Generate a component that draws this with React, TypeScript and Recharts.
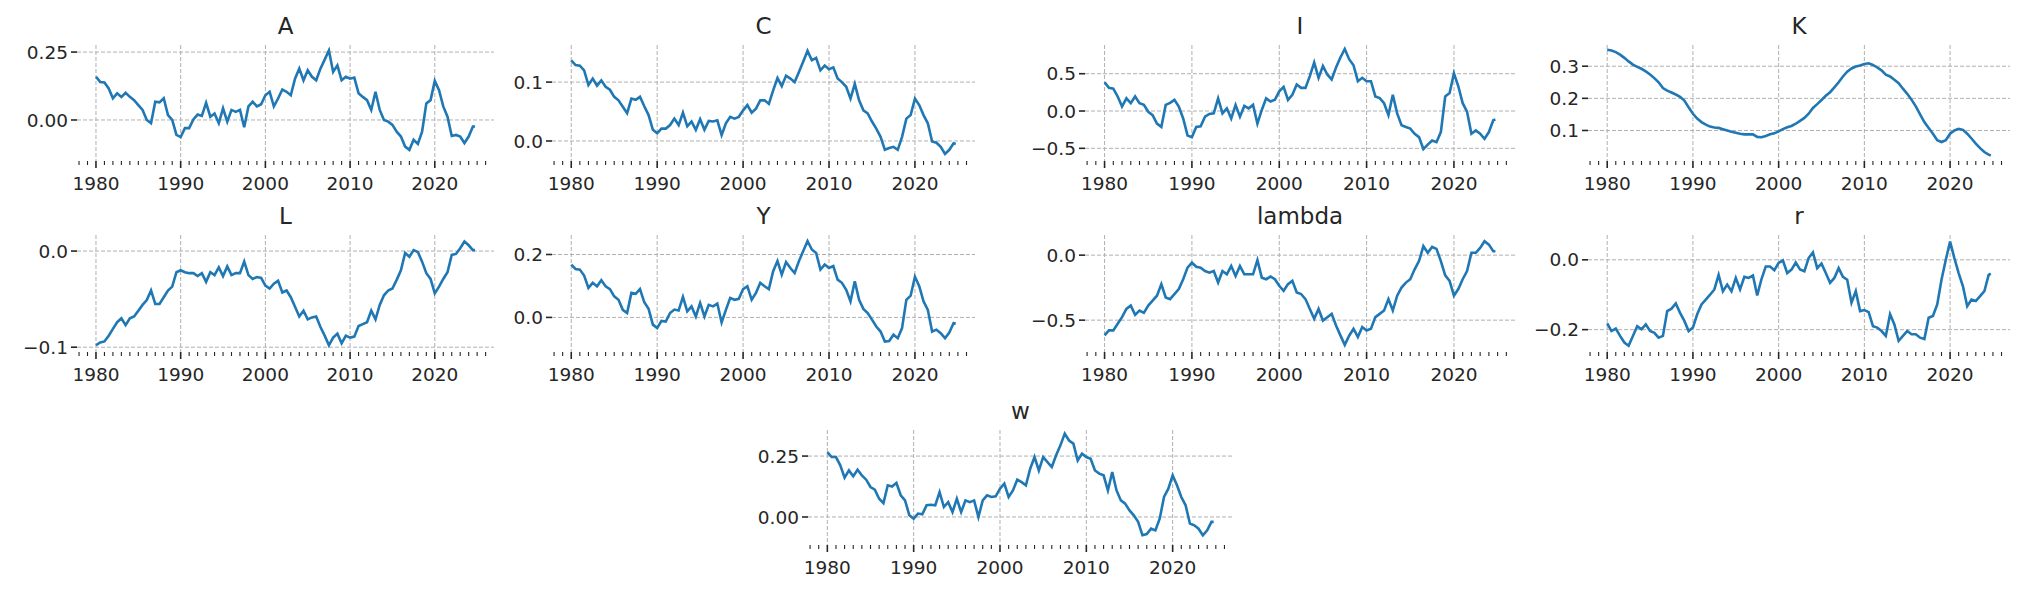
import React from "react";
import { CartesianGrid, Line, LineChart, XAxis, YAxis } from "recharts";

const FONT = '"DejaVu Sans", sans-serif';
const INK = "#262626";

// half-yearly observation dates
const years = [
  1980, 1980.5, 1981, 1981.5, 1982, 1982.5, 1983, 1983.5, 1984, 1984.5,
  1985, 1985.5, 1986, 1986.5, 1987, 1987.5, 1988, 1988.5, 1989, 1989.5,
  1990, 1990.5, 1991, 1991.5, 1992, 1992.5, 1993, 1993.5, 1994, 1994.5,
  1995, 1995.5, 1996, 1996.5, 1997, 1997.5, 1998, 1998.5, 1999, 1999.5,
  2000, 2000.5, 2001, 2001.5, 2002, 2002.5, 2003, 2003.5, 2004, 2004.5,
  2005, 2005.5, 2006, 2006.5, 2007, 2007.5, 2008, 2008.5, 2009, 2009.5,
  2010, 2010.5, 2011, 2011.5, 2012, 2012.5, 2013, 2013.5, 2014, 2014.5,
  2015, 2015.5, 2016, 2016.5, 2017, 2017.5, 2018, 2018.5, 2019, 2019.5,
  2020, 2020.5, 2021, 2021.5, 2022, 2022.5, 2023, 2023.5, 2024, 2024.5,
  2024.75,
];

const aValues = [
  0.159, 0.14, 0.138, 0.116, 0.08, 0.098, 0.085, 0.1, 0.085, 0.073,
  0.055, 0.037, 0.0, -0.012, 0.067, 0.065, 0.08, 0.018, 0.0, -0.055,
  -0.063, -0.03, -0.03, 0.002, 0.02, 0.015, 0.063, 0.012, 0.024, -0.012,
  0.043, -0.006, 0.037, 0.03, 0.037, -0.027, 0.05, 0.067, 0.05, 0.058,
  0.091, 0.104, 0.05, 0.079, 0.112, 0.104, 0.091, 0.152, 0.189, 0.146,
  0.183, 0.159, 0.146, 0.189, 0.222, 0.256, 0.177, 0.201, 0.146, 0.159,
  0.152, 0.156, 0.098, 0.085, 0.073, 0.037, 0.104, 0.037, 0.0, -0.006,
  -0.018, -0.043, -0.061, -0.098, -0.11, -0.073, -0.088, -0.043, 0.061, 0.073,
  0.144, 0.11, 0.05, 0.012, -0.059, -0.055, -0.061, -0.085, -0.061, -0.024,
  -0.024,
];

const cValues = [
  0.137, 0.129, 0.128, 0.12, 0.095, 0.106, 0.094, 0.103, 0.092, 0.087,
  0.075, 0.069, 0.058, 0.047, 0.072, 0.07, 0.075, 0.059, 0.044, 0.019,
  0.013, 0.021, 0.021, 0.027, 0.038, 0.027, 0.048, 0.025, 0.033, 0.019,
  0.037, 0.019, 0.034, 0.033, 0.035, 0.01, 0.03, 0.041, 0.038, 0.041,
  0.052, 0.061, 0.048, 0.055, 0.069, 0.069, 0.063, 0.086, 0.107, 0.093,
  0.111, 0.106, 0.1, 0.117, 0.135, 0.153, 0.137, 0.141, 0.12, 0.128,
  0.122, 0.125, 0.106, 0.1, 0.092, 0.072, 0.097, 0.069, 0.052, 0.047,
  0.033, 0.021, 0.007, -0.015, -0.012, -0.01, -0.015, 0.007, 0.038, 0.044,
  0.072, 0.061, 0.044, 0.03, -0.001, -0.003, -0.01, -0.022, -0.015, -0.004,
  -0.005,
];

const iValues = [
  0.386, 0.31, 0.3, 0.195, 0.06, 0.17, 0.105, 0.195, 0.105, 0.082,
  -0.01, -0.055, -0.168, -0.214, 0.082, 0.11, 0.15, 0.06, -0.1, -0.327,
  -0.35, -0.214, -0.205, -0.077, -0.04, -0.03, 0.17, -0.03, 0.036, -0.1,
  0.082, -0.077, 0.068, 0.036, 0.082, -0.168, 0.014, 0.17, 0.127, 0.15,
  0.264, 0.323, 0.15, 0.218, 0.355, 0.31, 0.31, 0.468, 0.65, 0.445,
  0.605, 0.49, 0.423, 0.582, 0.718, 0.832, 0.695, 0.614, 0.4, 0.445,
  0.4, 0.4, 0.195, 0.173, 0.105, -0.055, 0.218, -0.032, -0.19, -0.214,
  -0.236, -0.305, -0.35, -0.51, -0.45, -0.395, -0.418, -0.282, 0.195, 0.24,
  0.505, 0.332, 0.105, -0.01, -0.305, -0.26, -0.305, -0.373, -0.282, -0.123,
  -0.114,
];

const kValues = [
  0.351, 0.349, 0.344, 0.336, 0.326, 0.315, 0.305, 0.298, 0.292, 0.284,
  0.274, 0.263, 0.25, 0.232, 0.224, 0.218, 0.212, 0.205, 0.193, 0.172,
  0.152, 0.137, 0.126, 0.118, 0.112, 0.109, 0.108, 0.104, 0.1, 0.096,
  0.093, 0.09, 0.088, 0.088, 0.088, 0.08, 0.079, 0.083, 0.088, 0.091,
  0.097, 0.104, 0.11, 0.114, 0.121, 0.13, 0.139, 0.152, 0.17, 0.182,
  0.195, 0.208, 0.219, 0.234, 0.25, 0.268, 0.283, 0.293, 0.299, 0.302,
  0.307, 0.309, 0.304, 0.296, 0.287, 0.274, 0.268, 0.258, 0.247, 0.23,
  0.214, 0.196, 0.175, 0.15, 0.126, 0.108, 0.09, 0.07, 0.064, 0.07,
  0.09, 0.1, 0.105, 0.102, 0.09, 0.075, 0.059, 0.045, 0.033, 0.025,
  0.022,
];

const lValues = [
  -0.098, -0.095, -0.094, -0.088, -0.081, -0.074, -0.07, -0.077, -0.07, -0.068,
  -0.062, -0.056, -0.051, -0.041, -0.055, -0.055, -0.048, -0.041, -0.037, -0.022,
  -0.02, -0.022, -0.023, -0.023, -0.026, -0.023, -0.032, -0.022, -0.025, -0.017,
  -0.026, -0.016, -0.025, -0.023, -0.023, -0.011, -0.025, -0.029, -0.027, -0.028,
  -0.036, -0.039, -0.034, -0.031, -0.043, -0.041, -0.048, -0.058, -0.068, -0.062,
  -0.071, -0.069, -0.068, -0.079, -0.088, -0.098, -0.09, -0.086, -0.096, -0.088,
  -0.09, -0.089, -0.078, -0.076, -0.074, -0.062, -0.071, -0.056, -0.046, -0.041,
  -0.039, -0.03, -0.02, -0.002, -0.006, 0.001, -0.001, -0.011, -0.023, -0.029,
  -0.044, -0.037, -0.029, -0.022, -0.004, -0.003, 0.003, 0.01, 0.006, 0.001,
  0.001,
];

const yValues = [
  0.168, 0.154, 0.152, 0.133, 0.094, 0.11, 0.099, 0.118, 0.099, 0.09,
  0.067, 0.056, 0.024, 0.014, 0.078, 0.075, 0.09, 0.048, 0.027, -0.023,
  -0.034, -0.011, -0.013, 0.014, 0.025, 0.022, 0.065, 0.019, 0.035, 0.003,
  0.046, 0.003, 0.04, 0.035, 0.044, -0.016, 0.024, 0.062, 0.056, 0.059,
  0.09, 0.099, 0.056, 0.078, 0.11, 0.099, 0.09, 0.147, 0.179, 0.136,
  0.176, 0.157, 0.141, 0.179, 0.211, 0.243, 0.216, 0.205, 0.152, 0.168,
  0.157, 0.163, 0.12, 0.11, 0.088, 0.051, 0.115, 0.056, 0.027, 0.014,
  -0.007, -0.029, -0.045, -0.077, -0.075, -0.055, -0.066, -0.034, 0.056, 0.069,
  0.129, 0.099, 0.051, 0.024, -0.045, -0.039, -0.05, -0.066, -0.048, -0.018,
  -0.02,
];

const lambdaValues = [
  -0.617, -0.579, -0.579, -0.528, -0.477, -0.414, -0.388, -0.459, -0.426, -0.444,
  -0.388, -0.35, -0.312, -0.223, -0.325, -0.338, -0.3, -0.261, -0.185, -0.096,
  -0.058, -0.089, -0.096, -0.122, -0.135, -0.122, -0.211, -0.122, -0.147, -0.084,
  -0.16, -0.084, -0.147, -0.147, -0.147, -0.038, -0.173, -0.185, -0.165, -0.185,
  -0.236, -0.274, -0.223, -0.198, -0.287, -0.299, -0.338, -0.414, -0.49, -0.414,
  -0.503, -0.477, -0.452, -0.541, -0.617, -0.69, -0.62, -0.566, -0.629, -0.553,
  -0.579, -0.566, -0.477, -0.452, -0.426, -0.338, -0.426, -0.312, -0.249, -0.211,
  -0.185, -0.109, -0.046, 0.069, 0.018, 0.063, 0.048, -0.046, -0.155, -0.198,
  -0.312, -0.261, -0.185, -0.122, 0.018, 0.018, 0.056, 0.107, 0.081, 0.03,
  0.03,
];

const rValues = [
  -0.182, -0.204, -0.197, -0.218, -0.237, -0.246, -0.218, -0.19, -0.199, -0.185,
  -0.204, -0.209, -0.223, -0.218, -0.147, -0.14, -0.125, -0.152, -0.175, -0.204,
  -0.194, -0.156, -0.128, -0.114, -0.1, -0.085, -0.043, -0.09, -0.071, -0.09,
  -0.052, -0.085, -0.049, -0.052, -0.045, -0.102, -0.055, -0.019, -0.019, -0.03,
  -0.009, -0.002, -0.038, -0.028, -0.008, -0.028, -0.033, 0.005, 0.021, -0.024,
  -0.011, -0.038, -0.066, -0.052, -0.024, -0.049, -0.057, -0.123, -0.09, -0.147,
  -0.144, -0.15, -0.19, -0.194, -0.204, -0.218, -0.156, -0.185, -0.232, -0.218,
  -0.204, -0.213, -0.213, -0.223, -0.227, -0.166, -0.161, -0.128, -0.057, 0.0,
  0.052, 0.005, -0.038, -0.076, -0.133, -0.114, -0.118, -0.104, -0.09, -0.043,
  -0.04,
];

const wValues = [
  0.266, 0.246, 0.246, 0.212, 0.161, 0.191, 0.167, 0.194, 0.171, 0.153,
  0.123, 0.112, 0.075, 0.057, 0.13, 0.125, 0.14, 0.089, 0.068, 0.007,
  -0.007, 0.014, 0.011, 0.048, 0.05, 0.048, 0.102, 0.041, 0.061, 0.02,
  0.075, 0.02, 0.068, 0.061, 0.068, 0.0, 0.068, 0.089, 0.082, 0.085,
  0.116, 0.137, 0.082, 0.109, 0.153, 0.143, 0.13, 0.198, 0.246, 0.191,
  0.246, 0.225, 0.205, 0.253, 0.294, 0.342, 0.314, 0.301, 0.232, 0.26,
  0.246, 0.239, 0.191, 0.178, 0.171, 0.109, 0.184, 0.109, 0.068, 0.055,
  0.027, 0.007, -0.02, -0.075, -0.07, -0.048, -0.055, -0.007, 0.082, 0.116,
  0.171, 0.13, 0.082, 0.048, -0.027, -0.034, -0.048, -0.075, -0.055, -0.02,
  -0.02,
];

const majorYears = [1980, 1990, 2000, 2010, 2020];
const allYears = [
  1978, 1979, 1980, 1981, 1982, 1983, 1984, 1985, 1986, 1987, 1988, 1989,
  1990, 1991, 1992, 1993, 1994, 1995, 1996, 1997, 1998, 1999, 2000, 2001,
  2002, 2003, 2004, 2005, 2006, 2007, 2008, 2009, 2010, 2011, 2012, 2013,
  2014, 2015, 2016, 2017, 2018, 2019, 2020, 2021, 2022, 2023, 2024, 2025, 2026,
];
const X_DOMAIN = [1977.76, 2026.99];

const YW = 80; // y axis width
const XH = 40; // x axis height

const panels = [
  { title: "A", values: aValues, left: 77, right: 494, top: 45, bottom: 161, domain: [-0.151, 0.276], ticks: [0, 0.25], digits: 2 },
  { title: "C", values: cValues, left: 552, right: 975, top: 45, bottom: 161, domain: [-0.034, 0.163], ticks: [0, 0.1], digits: 1 },
  { title: "I", values: iValues, left: 1085, right: 1515, top: 45, bottom: 161, domain: [-0.67, 0.885], ticks: [-0.5, 0, 0.5], digits: 1 },
  { title: "K", values: kValues, left: 1588, right: 2010, top: 45, bottom: 161, domain: [0.005, 0.366], ticks: [0.1, 0.2, 0.3], digits: 1 },
  { title: "L", values: lValues, left: 77, right: 494, top: 235, bottom: 352, domain: [-0.105, 0.0167], ticks: [-0.1, 0], digits: 1 },
  { title: "Y", values: yValues, left: 552, right: 975, top: 235, bottom: 352, domain: [-0.11, 0.262], ticks: [0, 0.2], digits: 1 },
  { title: "lambda", values: lambdaValues, left: 1085, right: 1515, top: 235, bottom: 352, domain: [-0.745, 0.155], ticks: [-0.5, 0], digits: 1 },
  { title: "r", values: rValues, left: 1588, right: 2010, top: 235, bottom: 352, domain: [-0.264, 0.071], ticks: [-0.2, 0], digits: 1 },
  { title: "w", values: wValues, left: 808, right: 1233, top: 430, bottom: 545, domain: [-0.115, 0.357], ticks: [0, 0.25], digits: 2 },
];

const fmt = (v: number, digits: number) => v.toFixed(digits).replace("-", "\u2212");

const XTick = (props: any) => {
  const { x, y, payload } = props;
  const major = payload.value % 10 === 0;
  return (
    <g>
      <line x1={x} x2={x} y1={y} y2={y + (major ? 7 : 4)} stroke={INK} strokeWidth={major ? 1.6 : 1.1} />
      {major && (
        <text x={x} y={y + 29} textAnchor="middle" fill={INK} fontSize={18.5} fontFamily={FONT}>
          {payload.value}
        </text>
      )}
    </g>
  );
};

function Panel({ p }: { p: (typeof panels)[number] }) {
  const data = years.map((year, i) => ({ year, value: p.values[i] }));
  const w = p.right - p.left;
  const h = p.bottom - p.top;
  return (
    <>
      <svg
        style={{ position: "absolute", left: p.left, top: p.top - 40, overflow: "visible" }}
        width={w}
        height={40}
      >
        <text x={w / 2} y={29} textAnchor="middle" fill={INK} fontSize={23} fontFamily={FONT}>
          {p.title}
        </text>
      </svg>
      <div style={{ position: "absolute", left: p.left - YW, top: p.top - 5 }}>
        <LineChart width={w + YW + 5} height={h + XH + 5} data={data} margin={{ top: 5, right: 5, bottom: 0, left: 0 }}>
          <CartesianGrid
            stroke="#b0b0b0"
            strokeDasharray="4 2"
            strokeWidth={1}
            horizontalValues={p.ticks}
            verticalValues={majorYears}
          />
          <XAxis
            dataKey="year"
            type="number"
            domain={X_DOMAIN}
            ticks={allYears}
            interval={0}
            allowDataOverflow
            height={XH}
            axisLine={false}
            tickLine={false}
            tickSize={0}
            tickMargin={0}
            tick={<XTick />}
          />
          <YAxis
            type="number"
            domain={p.domain}
            ticks={p.ticks}
            interval={0}
            allowDataOverflow
            width={YW}
            axisLine={false}
            tickLine={{ stroke: INK, strokeWidth: 1.6 }}
            tickSize={6}
            tickMargin={3}
            tick={{ fill: INK, fontSize: 18.5, fontFamily: FONT }}
            tickFormatter={(v: number) => fmt(v, p.digits)}
          />
          <Line
            type="linear"
            dataKey="value"
            stroke="#1f77b4"
            strokeWidth={2.6}
            dot={false}
            isAnimationActive={false}
          />
        </LineChart>
      </div>
    </>
  );
}

export default function App() {
  return (
    <div
      style={{
        position: "absolute",
        left: 0,
        top: 0,
        width: 2032,
        height: 592,
        background: "#ffffff",
        fontFamily: FONT,
      }}
    >
      {panels.map((p) => (
        <Panel key={p.title} p={p} />
      ))}
    </div>
  );
}
